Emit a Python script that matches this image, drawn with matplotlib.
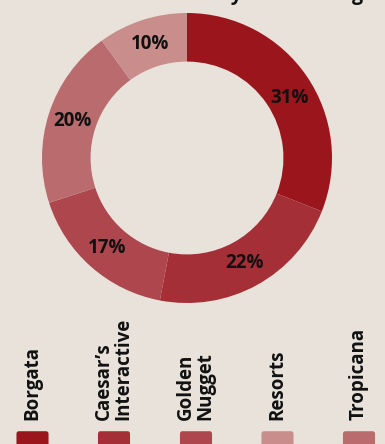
import matplotlib.pyplot as plt
import matplotlib.patches as mpatches

plt.rcParams['font.family'] = ['Open Sans', 'DejaVu Sans']

BG = '#E8E2DB'

# donut, clockwise from top
ring_names  = ['Borgata', "Caesar\u2019s Interactive", 'Golden Nugget', 'Tropicana', 'Resorts']
ring_values = [31, 22, 17, 20, 10]
ring_colors = ['#9B151D', '#A52F37', '#AE474D', '#B96B6D', '#C98D8B']

# legend order
legend_labels = ['Borgata', "Caesar\u2019s\nInteractive", 'Golden\nNugget', 'Resorts', 'Tropicana']
legend_colors = ['#9B151D', '#A52F37', '#AE474D', '#C98D8B', '#B96B6D']

W, H = 385, 444
fig = plt.figure(figsize=(W / 100, H / 100), dpi=100)
fig.patch.set_facecolor(BG)

# title, cropped off at the top of the image (only descenders show)
fig.text(363 / W, 1.0, 'Market Share by Net Gaming', ha='right', va='baseline',
         fontsize=14, fontweight='bold', color='#111111')

# ── donut ──
cx, cy, r = 187, 158, 145
ax = fig.add_axes([(cx - r) / W, (H - cy - r) / H, 2 * r / W, 2 * r / H])
ax.set_facecolor(BG)
wedges, texts, autotexts = ax.pie(
    ring_values, colors=ring_colors, startangle=90, counterclock=False,
    wedgeprops=dict(width=0.335, edgecolor='none'),
    autopct='%d%%', pctdistance=0.83,
    textprops=dict(fontsize=13.5, fontweight='bold', color='#111111'))
# first label sits a little lower in the original
px, py = autotexts[0].get_position()
autotexts[0].set_position((px + 0.02, py - 0.05))
ax.set_xlim(-1, 1); ax.set_ylim(-1, 1)
ax.axis('off')

# ── legend ──
sw_x = [32.5, 114, 196, 277.5, 359]
for x, lab, col in zip(sw_x, legend_labels, legend_colors):
    box = mpatches.FancyBboxPatch(((x - 14.5) / W, (H - 460) / H), 29 / W, 27 / H,
                                  boxstyle='round,pad=0.004,rounding_size=0.006',
                                  transform=fig.transFigure, facecolor=col,
                                  edgecolor='none')
    fig.add_artist(box)
    fig.text(x / W, (H - 420) / H, lab, rotation=90, ha='center', va='bottom',
             multialignment='left', fontsize=13.5, fontweight='bold',
             color='#111111', linespacing=0.95)

fig.savefig('out.png', dpi=100, facecolor=BG)
